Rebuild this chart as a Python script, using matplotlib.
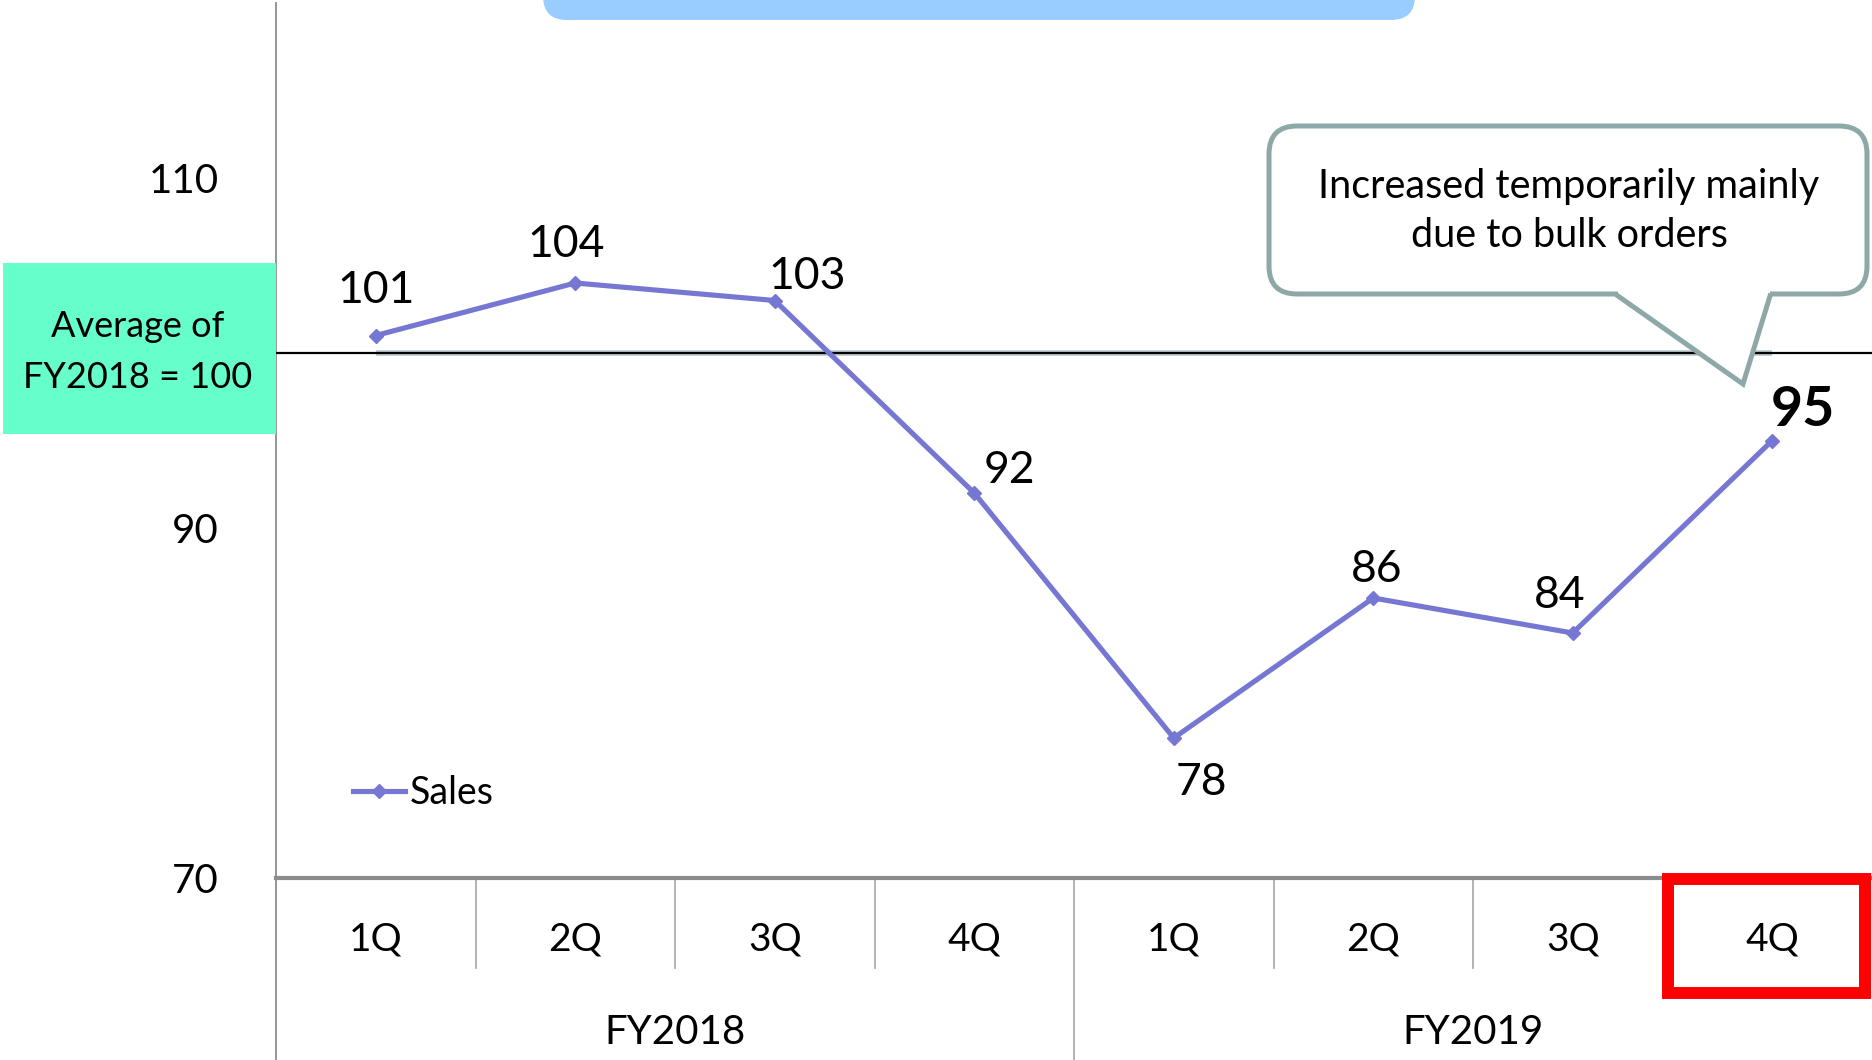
import matplotlib
matplotlib.use("Agg")
import matplotlib.pyplot as plt
import matplotlib.transforms as mtransforms
from matplotlib.patches import FancyBboxPatch, Rectangle, Polygon

plt.rcParams['font.family'] = ['Lato', 'DejaVu Sans']

# data
quarters = ['1Q', '2Q', '3Q', '4Q', '1Q', '2Q', '3Q', '4Q']
years = ['FY2018', 'FY2019']
sales = [101, 104, 103, 92, 78, 86, 84, 95]
average = [100] * 8
yticks = [70, 90, 110]

# label offsets from each point in pixels (dx, dy up to baseline)
label_off = [(0, 33), (-9, 26), (32, 12), (35, 10), (28, -57), (3, 16), (-13, 25), (31, 15)]

W, H = 1872, 1060
fig = plt.figure(figsize=(W / 100, H / 100), dpi=100)
ax = fig.add_axes([276 / W, 1 - 878 / H, 1 - 276 / W, (878 - 3) / H])

# pixel coords, origin top-left
pix = mtransforms.Affine2D().scale(1 / W, -1 / H).translate(0, 1) + fig.transFigure

x = list(range(len(sales)))
line_col = '#7676D3'

ax.plot(x, average, color='#B4C8CE', lw=4, zorder=2, solid_capstyle='butt')
ax.axhline(100, color='black', lw=1.6, zorder=3)
ax.plot(x, sales, color=line_col, lw=3.7, marker='D', ms=7, zorder=4, label='Sales')

ax.set_xlim(-0.5, 7.5)
ax.set_ylim(70, 120)
ax.set_yticks(yticks)
ax.set_xticks([])
ax.tick_params(axis='y', length=0, pad=41, labelsize=29)

for s in ['top', 'right']:
    ax.spines[s].set_visible(False)
ax.spines['left'].set_color('#8C8C8C')
ax.spines['left'].set_linewidth(1.3)
ax.spines['bottom'].set_color('#8C8C8C')
ax.spines['bottom'].set_linewidth(3)

for i, v in enumerate(sales):
    dx, dy = label_off[i]
    bold = i == len(sales) - 1
    ax.annotate(str(v), (i, v), xytext=(dx * 0.72, dy * 0.72), textcoords='offset points',
                ha='center', va='baseline', fontsize=40 if bold else 32,
                fontweight='bold' if bold else 'normal', zorder=6)

# category axis
bl = mtransforms.blended_transform_factory(ax.transData, pix)
for k in range(1, 8):
    bottom = 1060 if k == 4 else 968
    ax.plot([k - 0.5, k - 0.5], [878, bottom], transform=bl, color='#A6A6A6', lw=1.2, clip_on=False)
ax.plot([-0.5, -0.5], [878, 1060], transform=bl, color='#8C8C8C', lw=1.3, clip_on=False)
for i, q in enumerate(quarters):
    ax.text(i, 950, q, transform=bl, ha='center', va='baseline', fontsize=28)
for j, yname in enumerate(years):
    ax.text(j * 4 + 1.5, 1044, yname, transform=bl, ha='center', va='baseline', fontsize=29)

leg = ax.legend(loc='center left', bbox_to_anchor=(353 / W, 1 - 793 / H),
                bbox_transform=fig.transFigure, frameon=False, fontsize=27,
                handlelength=1.39, handletextpad=0.13, borderpad=0, borderaxespad=0)

# top banner (cut off)
fig.add_artist(FancyBboxPatch((543, -60), 872, 80, boxstyle='round,pad=0,rounding_size=24',
                              transform=pix, fc='#99CCFF', ec='none', clip_on=False))

# green note box
fig.add_artist(Rectangle((3, 263), 273, 171, transform=pix, fc='#66FFCC', ec='none'))
fig.text(138, 337, 'Average of', transform=pix, ha='center', va='baseline', fontsize=26)
fig.text(138, 388, 'FY2018 = 100', transform=pix, ha='center', va='baseline', fontsize=26)

# callout
cc = '#8EA8A8'
fig.add_artist(FancyBboxPatch((1269, 126), 598, 168, boxstyle='round,pad=0,rounding_size=28',
                              transform=pix, fc='white', ec=cc, lw=3.6, zorder=5))
fig.add_artist(Polygon([(1618, 296), (1743, 384), (1770, 296), (1770, 286), (1618, 286)],
                       closed=True, transform=pix, fc='white', ec='none', zorder=6))
fig.add_artist(plt.Line2D([1618, 1743, 1770], [296, 384, 296], transform=pix, color=cc,
                          lw=3.6, zorder=7, solid_joinstyle='miter'))
fig.text(1569, 198, 'Increased temporarily mainly', transform=pix, ha='center', va='baseline',
         fontsize=28.5, zorder=8)
fig.text(1569, 247, 'due to bulk orders', transform=pix, ha='center', va='baseline',
         fontsize=28.5, zorder=8)

# highlight box
fig.add_artist(Rectangle((1668, 879), 197, 114, transform=pix, fc='none', ec='#FF0000',
                         lw=8.6, zorder=9))

fig.savefig('out.png', dpi=100)
